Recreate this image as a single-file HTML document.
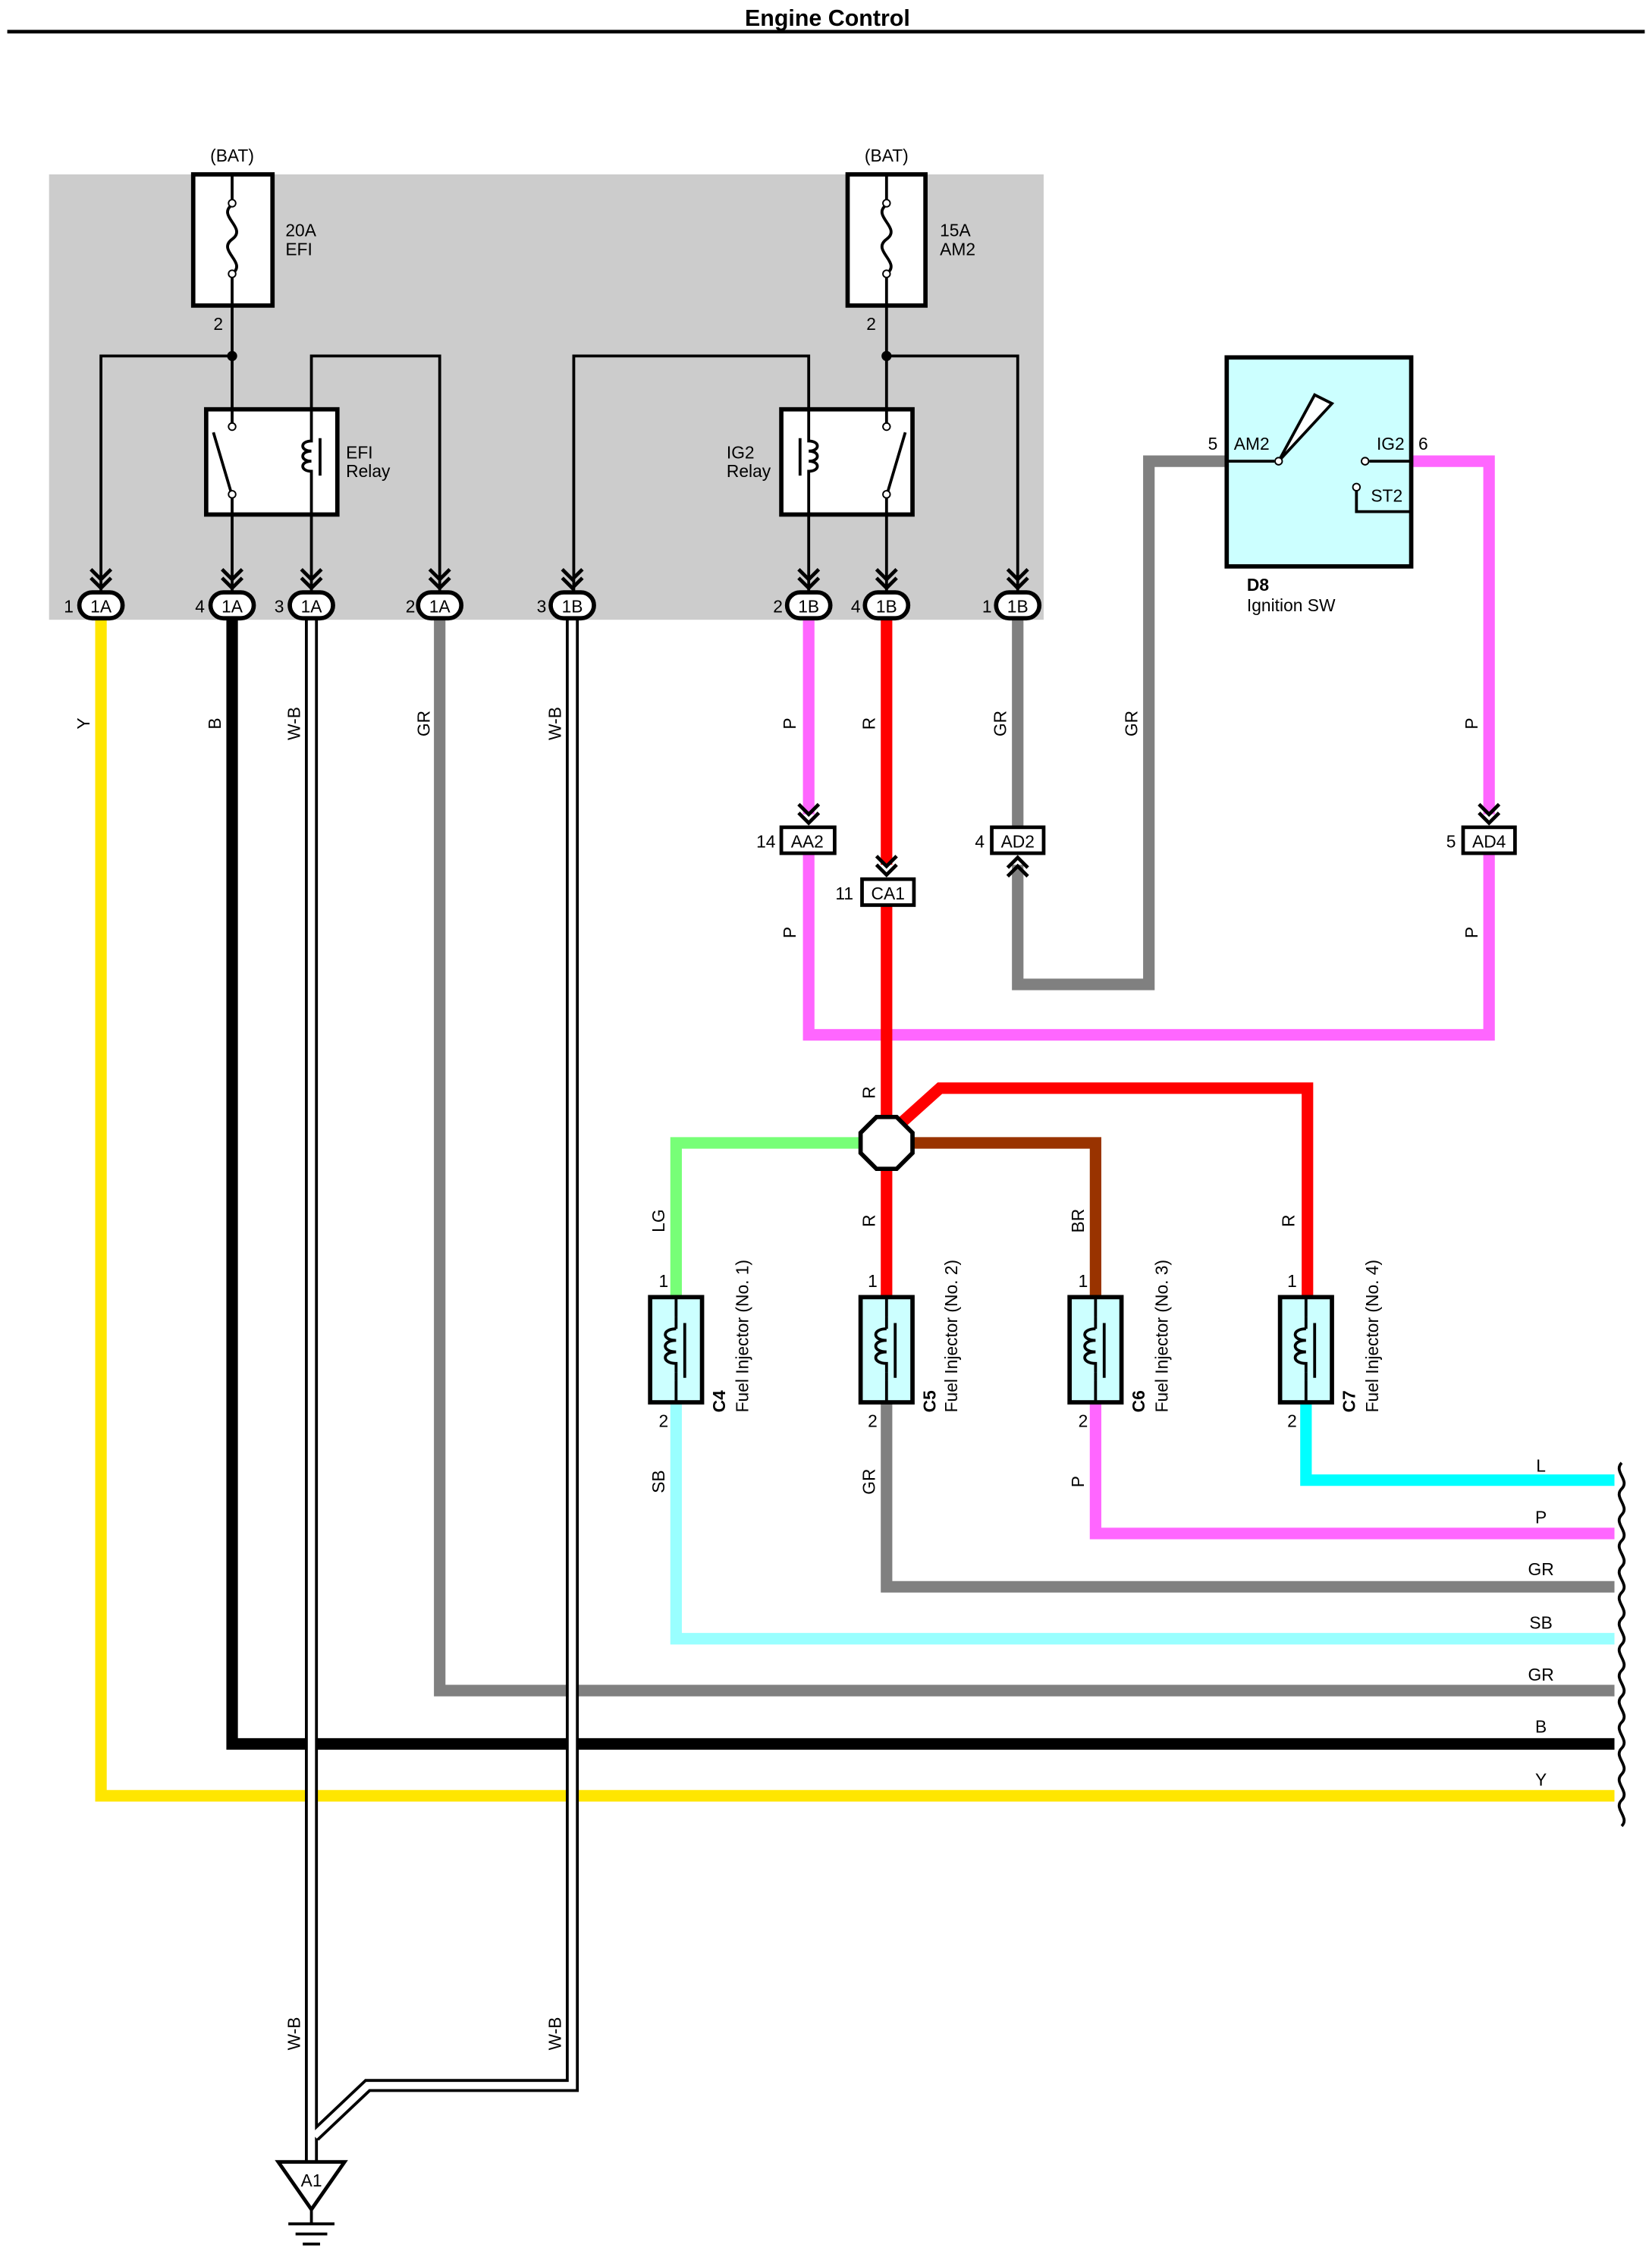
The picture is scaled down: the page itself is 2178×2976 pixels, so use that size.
<!DOCTYPE html>
<html><head><meta charset="utf-8"><style>
html,body{margin:0;padding:0;background:#fff}
svg{display:block}
text{font-family:"Liberation Sans",sans-serif;font-size:12px;fill:#000}
</style></head><body>
<svg width="2178" height="2976" viewBox="0 0 1146 1566" xmlns="http://www.w3.org/2000/svg">
<defs>
<g id="conn"><rect x="-15" y="-9" width="30" height="18" rx="9" fill="#fff" stroke="#000" stroke-width="3"/></g>
<g id="chev"><path d="M-7,-10 L0,-3 L7,-10 M-7,-4 L0,3 L7,-4" fill="none" stroke="#000" stroke-width="2.5"/></g>
<g id="chevup"><path d="M-7,10 L0,3 L7,10 M-7,4 L0,-3 L7,4" fill="none" stroke="#000" stroke-width="2.5"/></g>
<g id="inj"><rect x="-18" y="0" width="36" height="73" fill="#ccffff" stroke="#000" stroke-width="3"/>
<line x1="0" y1="0" x2="0" y2="14" stroke="#000" stroke-width="2"/><line x1="0" y1="58" x2="0" y2="73" stroke="#000" stroke-width="2"/>
<path d="M0,14 L0,22 M0,52 L0,58" stroke="#000" stroke-width="2"/>
<path d="M0,22 C-10,22 -10,30 0,30 C-10,30 -10,38 0,38 C-10,38 -10,46 0,46 L0,52" fill="none" stroke="#000" stroke-width="2"/>
<line x1="6" y1="18" x2="6" y2="56" stroke="#000" stroke-width="2"/></g>
</defs>
<text x="574" y="18" text-anchor="middle" style="font-weight:bold;font-size:16px">Engine Control</text>
<line x1="5" y1="22" x2="1141" y2="22" stroke="#000" stroke-width="2.5"/>
<rect x="34" y="121" width="690" height="309" fill="#cccccc"/>
<rect x="134" y="121" width="55" height="91" fill="#fff" stroke="#000" stroke-width="3"/>
<path d="M161,121 L161,140 M161,192 L161,212" stroke="#000" stroke-width="2"/>
<path d="M161,142 C150,150 172,158 161,166 C150,174 172,182 161,190" fill="none" stroke="#000" stroke-width="2"/>
<circle cx="161" cy="141" r="2.5" fill="#fff" stroke="#000"/><circle cx="161" cy="190" r="2.5" fill="#fff" stroke="#000"/>
<text x="161" y="112" text-anchor="middle">(BAT)</text>
<text x="198" y="164">20A</text><text x="198" y="177">EFI</text><text x="148" y="229">2</text>
<rect x="588" y="121" width="54" height="91" fill="#fff" stroke="#000" stroke-width="3"/>
<path d="M615,121 L615,140 M615,192 L615,212" stroke="#000" stroke-width="2"/>
<path d="M615,142 C604,150 626,158 615,166 C604,174 626,182 615,190" fill="none" stroke="#000" stroke-width="2"/>
<circle cx="615" cy="141" r="2.5" fill="#fff" stroke="#000"/><circle cx="615" cy="190" r="2.5" fill="#fff" stroke="#000"/>
<text x="615" y="112" text-anchor="middle">(BAT)</text>
<text x="652" y="164">15A</text><text x="652" y="177">AM2</text><text x="601" y="229">2</text>
<g stroke="#000" stroke-width="2" fill="none">
<path d="M161,212 V284 M70,410 V247 H161 M216,284 V247 H305 V410 M161,357 V410 M216,357 V410"/>
<path d="M615,212 V284 M706,410 V247 H615 M561,284 V247 H398 V410 M561,357 V410 M615,357 V410"/>
</g>
<circle cx="161" cy="247" r="3.5"/><circle cx="615" cy="247" r="3.5"/>
<rect x="143" y="284" width="91" height="73" fill="#fff" stroke="#000" stroke-width="3"/>
<path d="M161,284 V294 M161,344 V357 M161,344 L148,300" stroke="#000" stroke-width="2"/>
<circle cx="161" cy="296" r="2.5" fill="#fff" stroke="#000"/><circle cx="161" cy="343" r="2.5" fill="#fff" stroke="#000"/>
<path d="M216,284 V306 C208,306 208,313 216,313 C208,313 208,320 216,320 C208,320 208,327 216,327 V357 M222,304 V330" fill="none" stroke="#000" stroke-width="2"/>
<text x="240" y="318">EFI</text><text x="240" y="331">Relay</text>
<rect x="542" y="284" width="91" height="73" fill="#fff" stroke="#000" stroke-width="3"/>
<path d="M615,284 V294 M615,344 V357 M615,344 L628,300" stroke="#000" stroke-width="2"/>
<circle cx="615" cy="296" r="2.5" fill="#fff" stroke="#000"/><circle cx="615" cy="343" r="2.5" fill="#fff" stroke="#000"/>
<path d="M561,284 V306 C569,306 569,313 561,313 C569,313 569,320 561,320 C569,320 569,327 561,327 V357 M555,304 V330" fill="none" stroke="#000" stroke-width="2"/>
<text x="504" y="318">IG2</text><text x="504" y="331">Relay</text>
<g fill="none" stroke-width="8" stroke-linejoin="miter">
<path d="M70,430 V1246 H1120" stroke="#ffe600"/>
<path d="M161,430 V1210 H1120" stroke="#000"/>
<path d="M305,430 V1173 H1120" stroke="#808080"/>
<path d="M561,430 V565 M561,592 V718 H1033 V592 M1033,565 V320 H979" stroke="#ff66ff"/>
<path d="M615,430 V600 M615,628 V775" stroke="#ff0000"/>
<path d="M622,782 L652,755 H907 V900" stroke="#ff0000"/>
<path d="M615,811 V900" stroke="#ff0000"/>
<path d="M706,430 V574 M706,600 V683 H797 V320 H851" stroke="#808080"/>
<path d="M597,793 H469 V900" stroke="#77ff77"/>
<path d="M633,793 H760 V900" stroke="#993300"/>
<path d="M469,973 V1137 H1120" stroke="#99ffff"/>
<path d="M615,973 V1101 H1120" stroke="#808080"/>
<path d="M760,973 V1064 H1120" stroke="#ff66ff"/>
<path d="M906,973 V1027 H1120" stroke="#00ffff"/>
</g>
<g fill="none">
<path d="M216,430 V1500 M397,430 V1447 H255 L218,1482" stroke="#000" stroke-width="9"/>
<path d="M216,430 V1500 M397,430 V1447 H255 L218,1482" stroke="#fff" stroke-width="5"/>
</g>
<path d="M1125,1015 c-6,6 6,12 0,18 c-6,6 6,12 0,18 c-6,6 6,12 0,18 c-6,6 6,12 0,18 c-6,6 6,12 0,18 c-6,6 6,12 0,18 c-6,6 6,12 0,18 c-6,6 6,12 0,18 c-6,6 6,12 0,18 c-6,6 6,12 0,18 c-6,6 6,12 0,18 c-6,6 6,12 0,18 c-6,6 6,12 0,18 c-6,6 6,12 0,18" fill="none" stroke="#000" stroke-width="2"/>
<g>
<use href="#chev" x="70" y="405"/><use href="#chev" x="161" y="405"/><use href="#chev" x="216" y="405"/><use href="#chev" x="305" y="405"/>
<use href="#chev" x="397" y="405"/><use href="#chev" x="561" y="405"/><use href="#chev" x="615" y="405"/><use href="#chev" x="706" y="405"/>
<use href="#conn" x="70" y="420"/><use href="#conn" x="161" y="420"/><use href="#conn" x="216" y="420"/><use href="#conn" x="305" y="420"/>
<use href="#conn" x="397" y="420"/><use href="#conn" x="561" y="420"/><use href="#conn" x="615" y="420"/><use href="#conn" x="706" y="420"/>
</g>
<g text-anchor="middle">
<text x="70" y="425">1A</text><text x="161" y="425">1A</text><text x="216" y="425">1A</text><text x="305" y="425">1A</text>
<text x="397" y="425">1B</text><text x="561" y="425">1B</text><text x="615" y="425">1B</text><text x="706" y="425">1B</text>
</g>
<g text-anchor="end">
<text x="51" y="425">1</text><text x="142" y="425">4</text><text x="197" y="425">3</text><text x="288" y="425">2</text>
<text x="379" y="425">3</text><text x="543" y="425">2</text><text x="597" y="425">4</text><text x="688" y="425">1</text>
</g>
<use href="#chev" x="561" y="568"/><rect x="542" y="574" width="37" height="18" fill="#fff" stroke="#000" stroke-width="2.5"/><text x="560" y="588" text-anchor="middle">AA2</text><text x="538" y="588" text-anchor="end">14</text>
<use href="#chev" x="615" y="604"/><rect x="598" y="610" width="36" height="18" fill="#fff" stroke="#000" stroke-width="2.5"/><text x="616" y="624" text-anchor="middle">CA1</text><text x="592" y="624" text-anchor="end">11</text>
<rect x="688" y="574" width="36" height="18" fill="#fff" stroke="#000" stroke-width="2.5"/><use href="#chevup" x="706" y="598"/><text x="706" y="588" text-anchor="middle">AD2</text><text x="683" y="588" text-anchor="end">4</text>
<use href="#chev" x="1033" y="568"/><rect x="1015" y="574" width="36" height="18" fill="#fff" stroke="#000" stroke-width="2.5"/><text x="1033" y="588" text-anchor="middle">AD4</text><text x="1010" y="588" text-anchor="end">5</text>
<rect x="851" y="248" width="128" height="145" fill="#ccffff" stroke="#000" stroke-width="3"/>
<path d="M887,320 L912,274 L924,280 Z" fill="#fff" stroke="#000" stroke-width="2"/>
<circle cx="887" cy="320" r="2.5" fill="#fff" stroke="#000"/><circle cx="947" cy="320" r="2.5" fill="#fff" stroke="#000"/><circle cx="941" cy="338" r="2.5" fill="#fff" stroke="#000"/>
<path d="M851,320 H884 M950,320 H979 M941,340 V355 H979" fill="none" stroke="#000" stroke-width="2"/>
<text x="856" y="312">AM2</text><text x="955" y="312">IG2</text><text x="951" y="348">ST2</text>
<text x="838" y="312">5</text><text x="984" y="312">6</text>
<text x="865" y="410" style="font-weight:bold">D8</text><text x="865" y="424">Ignition SW</text>
<polygon points="608,775 622,775 633,786 633,800 622,811 608,811 597,800 597,786" fill="#fff" stroke="#000" stroke-width="3"/>
<use href="#inj" x="469" y="900"/><use href="#inj" x="615" y="900"/><use href="#inj" x="760" y="900"/><use href="#inj" x="906" y="900"/>
<g>
<text x="457" y="893">1</text><text x="457" y="990">2</text>
<text x="602" y="893">1</text><text x="602" y="990">2</text>
<text x="748" y="893">1</text><text x="748" y="990">2</text>
<text x="893" y="893">1</text><text x="893" y="990">2</text>
</g>
<g>
<text transform="translate(503,980) rotate(-90)"><tspan style="font-weight:bold">C4</tspan></text><text transform="translate(519,980) rotate(-90)">Fuel Injector (No. 1)</text>
<text transform="translate(649,980) rotate(-90)"><tspan style="font-weight:bold">C5</tspan></text><text transform="translate(664,980) rotate(-90)">Fuel Injector (No. 2)</text>
<text transform="translate(794,980) rotate(-90)"><tspan style="font-weight:bold">C6</tspan></text><text transform="translate(810,980) rotate(-90)">Fuel Injector (No. 3)</text>
<text transform="translate(940,980) rotate(-90)"><tspan style="font-weight:bold">C7</tspan></text><text transform="translate(956,980) rotate(-90)">Fuel Injector (No. 4)</text>
</g>
<g text-anchor="middle">
<text transform="translate(62,502) rotate(-90)">Y</text>
<text transform="translate(153,502) rotate(-90)">B</text>
<text transform="translate(208,502) rotate(-90)">W-B</text>
<text transform="translate(298,502) rotate(-90)">GR</text>
<text transform="translate(389,502) rotate(-90)">W-B</text>
<text transform="translate(552,502) rotate(-90)">P</text>
<text transform="translate(607,502) rotate(-90)">R</text>
<text transform="translate(698,502) rotate(-90)">GR</text>
<text transform="translate(789,502) rotate(-90)">GR</text>
<text transform="translate(1025,502) rotate(-90)">P</text>
<text transform="translate(552,647) rotate(-90)">P</text>
<text transform="translate(1025,647) rotate(-90)">P</text>
<text transform="translate(607,758) rotate(-90)">R</text>
<text transform="translate(461,847) rotate(-90)">LG</text>
<text transform="translate(607,847) rotate(-90)">R</text>
<text transform="translate(752,847) rotate(-90)">BR</text>
<text transform="translate(898,847) rotate(-90)">R</text>
<text transform="translate(461,1028) rotate(-90)">SB</text>
<text transform="translate(607,1028) rotate(-90)">GR</text>
<text transform="translate(752,1028) rotate(-90)">P</text>
<text transform="translate(208,1411) rotate(-90)">W-B</text>
<text transform="translate(389,1411) rotate(-90)">W-B</text>
</g>
<g text-anchor="middle">
<text x="1069" y="1021">L</text><text x="1069" y="1057">P</text><text x="1069" y="1093">GR</text><text x="1069" y="1130">SB</text>
<text x="1069" y="1166">GR</text><text x="1069" y="1202">B</text><text x="1069" y="1239">Y</text>
</g>
<polygon points="193,1500 239,1500 216,1533" fill="#fff" stroke="#000" stroke-width="2.5"/>
<text x="216" y="1517" text-anchor="middle">A1</text>
<path d="M216,1533 V1543 M200,1543 H232 M205,1550 H227 M210,1557 H222" stroke="#000" stroke-width="2"/>
</svg>
</body></html>
